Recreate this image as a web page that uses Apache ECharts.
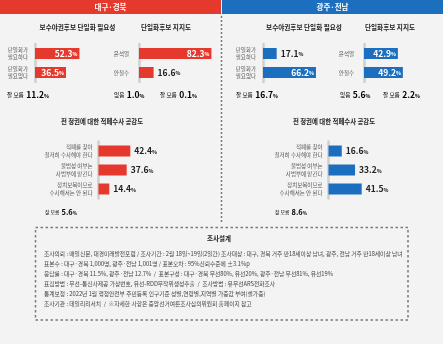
<!DOCTYPE html>
<html><head><meta charset="utf-8">
<script src="https://cdn.jsdelivr.net/npm/echarts@6/dist/echarts.min.js"></script>
<style>html,body{margin:0;padding:0;background:#f3f3f3}#c{width:443px;height:344px}</style>
</head><body><div id="c"></div>
<script>
// ---- data ----
const regions = ['대구·경북', '광주·전남'];
const chartTitles = ['보수야권후보 단일화 필요성', '단일화후보 지지도', '전 정권에 대한 적폐수사 공감도'];
const needCats = ['단일화가\n필요하다', '단일화가\n필요없다'];
const needDG = [52.3, 36.5];
const needGJ = [17.1, 66.2];
const needDK = [11.2, 16.7];          // 잘 모름 (DG, GJ)
const supportCats = ['윤석열', '안철수'];
const supportDG = [82.3, 16.6];
const supportGJ = [42.9, 49.2];
const supportNone = [1.0, 5.6];       // 없음 (DG, GJ)
const supportDK = [0.1, 2.2];         // 잘 모름 (DG, GJ)
const probeCats = ['적폐를 찾아\n철저히 수사해야 한다', '불법성 여부는\n사법부에 맡긴다', '정치보복이므로\n수사해서는 안 된다'];
const probeDG = [42.4, 37.6, 14.4];
const probeGJ = [16.6, 33.2, 41.5];
const probeDK = [5.6, 8.6];           // 잘 모름 (DG, GJ)
const surveyTitle = '조사설계';
const surveyLines = [
  '조사의뢰 : 매일신문, 대경미래발전포럼 / 조사기간 : 2월 18일~19일(2일간) 조사대상 : 대구, 경북 거주 만18세이상 남녀, 광주, 전남 거주 만18세이상 남녀',
  '표본수 : 대구·경북 1,000명, 광주·전남 1,001명 / 표본오차 : 95%신뢰수준에 ±3.1%p',
  '응답률 : 대구·경북 11.5%, 광주·전남 12.7%  /  표본구성 : 대구·경북 무선80%, 유선20%, 광주·전남 무선81%, 유선19%',
  '표집방법 : 무선-통신사제공 가상번호, 유선-RDD무작위생성추출  /  조사방법 : 유무선ARS전화조사',
  '통계보정 : 2022년 1월 행정안전부 주민등록 인구기준 성별,연령별,지역별 가중값 부여(셀가중)',
  '조사기관 : 데일리리서치  /  ※자세한 사항은 중앙선거여론조사심의위원회 홈페이지 참고'
];

// ---- styling ----
const FONT = '"Noto Sans CJK KR", "Noto Sans", sans-serif';
const RED = '#e5392d', BLUE = '#1c6fbf';
const pct = v => '{v|' + v.toFixed(1) + '}{p|%}';
const richVal = (c, s) => ({
  v: {fontFamily: FONT, fontWeight: 'bold', fontSize: s, color: c},
  p: {fontFamily: FONT, fontWeight: 'bold', fontSize: s * 0.6, color: c, padding: [2, 0, 0, 0]}
});

const specs = [
  {x: 35, top: 44, h: 38, ppu: 0.85, cats: needCats, data: needDG, color: RED, margin: 7, inside: 30, lh: 7},
  {x: 139, top: 44, h: 38, ppu: 0.88, cats: supportCats, data: supportDG, color: RED, margin: 10, inside: 30, lh: 7},
  {x: 98.5, top: 141.5, h: 57, ppu: 0.75, cats: probeCats, data: probeDG, color: RED, margin: 6, inside: 999, lh: 7.6},
  {x: 263, top: 44, h: 38, ppu: 0.8, cats: needCats, data: needGJ, color: BLUE, margin: 7, inside: 30, lh: 7},
  {x: 364, top: 44, h: 38, ppu: 1.2, cats: supportCats, data: supportGJ, color: BLUE, margin: 10, inside: 30, lh: 7},
  {x: 328.5, top: 141.5, h: 57, ppu: 0.8, cats: probeCats, data: probeGJ, color: BLUE, margin: 6, inside: 999, lh: 7.6}
];

const grid = [], xAxis = [], yAxis = [], series = [];
specs.forEach((s, i) => {
  grid.push({left: s.x, top: s.top, width: s.ppu * 100, height: s.h});
  xAxis.push({gridIndex: i, type: 'value', min: 0, max: 100, show: false});
  yAxis.push({
    gridIndex: i, type: 'category', data: s.cats, inverse: true,
    axisLine: {show: true, lineStyle: {color: '#cfcfcf', width: 2.5}},
    axisTick: {show: false}, splitLine: {show: false},
    axisLabel: {fontFamily: FONT, fontSize: 5.5, lineHeight: s.lh, color: '#555', margin: s.margin}
  });
  series.push({
    type: 'bar', xAxisIndex: i, yAxisIndex: i, barWidth: 11, silent: true,
    itemStyle: {color: s.color},
    data: s.data.map(v => {
      const inside = v >= s.inside;
      return {
        value: v,
        label: {
          show: true, position: inside ? 'insideRight' : 'right', distance: inside ? 2 : 4,
          formatter: p => pct(p.value),
          rich: richVal(inside ? '#fff' : '#222', 8.5)
        }
      };
    })
  });
});

// ---- graphics ----
const g = [];
const txt = (x, y, text, opt = {}) => g.push({
  type: 'text', x, y, silent: true,
  style: Object.assign({text, font: (opt.bold ? 'bold ' : '') + (opt.size || 6) + 'px ' + FONT,
    fill: opt.color || '#222', textAlign: opt.align || 'left', textVerticalAlign: 'middle'}, opt.style || {})
});
const dkText = (x, y, label, v, ls, vs) => g.push({
  type: 'text', x, y, silent: true,
  style: {text: '{l|' + label + '}  ' + pct(v), textVerticalAlign: 'middle', font: ls + 'px ' + FONT,
    rich: Object.assign({l: {fontFamily: FONT, fontSize: ls, color: '#555'}}, richVal('#222', vs))}
});

// headers
g.push({type: 'rect', shape: {x: 0, y: 0, width: 221, height: 14}, style: {fill: RED}, silent: true});
g.push({type: 'rect', shape: {x: 222, y: 0, width: 221, height: 14}, style: {fill: BLUE}, silent: true});
txt(110.5, 7.5, regions[0], {bold: true, size: 7.5, color: '#fff', align: 'center'});
txt(332.5, 7.5, regions[1], {bold: true, size: 7.5, color: '#fff', align: 'center'});

// divider
g.push({type: 'line', shape: {x1: 221.5, y1: 16, x2: 221.5, y2: 223}, silent: true,
  style: {stroke: '#7a7a7a', lineWidth: 1.5, lineDash: [2, 2]}});

// chart titles
txt(77.5, 27, chartTitles[0], {bold: true, size: 6.6, align: 'center'});
txt(166, 27, chartTitles[1], {bold: true, size: 6.6, align: 'center'});
txt(102, 121.5, chartTitles[2], {bold: true, size: 6.4, align: 'center'});
txt(304, 27, chartTitles[0], {bold: true, size: 6.6, align: 'center'});
txt(390, 27, chartTitles[1], {bold: true, size: 6.6, align: 'center'});
txt(334, 121.5, chartTitles[2], {bold: true, size: 6.4, align: 'center'});

// 잘 모름 / 없음
dkText(7, 95, '잘 모름', needDK[0], 5.6, 8.5);
dkText(236, 95, '잘 모름', needDK[1], 5.6, 8.5);
dkText(114, 95, '없음', supportNone[0], 5.6, 8.5);
dkText(160, 95, '잘 모름', supportDK[0], 5.6, 8.5);
dkText(340, 95, '없음', supportNone[1], 5.6, 8.5);
dkText(383, 95, '잘 모름', supportDK[1], 5.6, 8.5);
dkText(45, 212, '잘 모름', probeDK[0], 4.8, 7.5);
dkText(275, 212, '잘 모름', probeDK[1], 4.8, 7.5);

// survey box
g.push({type: 'rect', shape: {x: 35.5, y: 227.5, width: 372.5, height: 92.5}, silent: true,
  style: {fill: 'none', stroke: '#7a7a7a', lineWidth: 1.5, lineDash: [2.5, 2.5]}});
txt(219, 239, surveyTitle, {bold: true, size: 6.5, align: 'center'});
surveyLines.forEach((l, i) => txt(44, 254 + i * 10, l, {size: 5.75, color: '#444'}));

const chart = echarts.init(document.getElementById('c'), null, {renderer: 'canvas'});
chart.setOption({
  backgroundColor: '#f3f3f3',
  animation: false,
  grid, xAxis, yAxis, series,
  graphic: g
});
</script></body></html>
